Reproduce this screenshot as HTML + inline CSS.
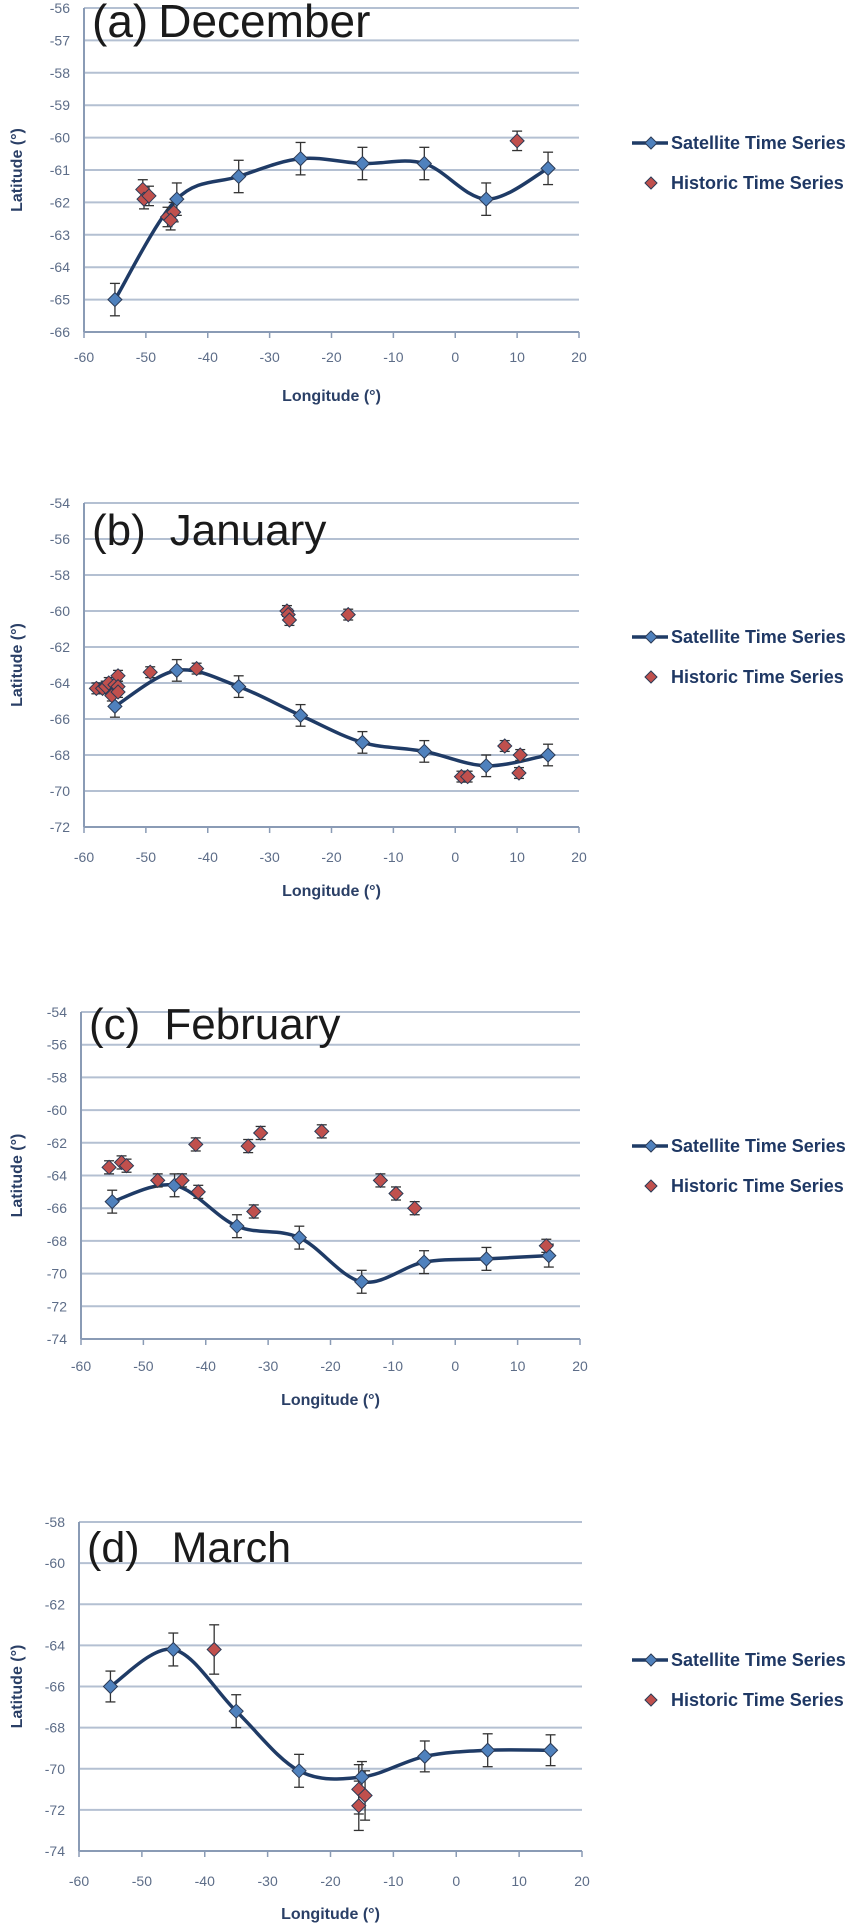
<!DOCTYPE html>
<html><head><meta charset="utf-8"><style>
html,body{margin:0;padding:0;background:#fff;}
svg{display:block;font-family:"Liberation Sans",sans-serif;}
</style></head><body>
<svg id="chart" width="858" height="1927" viewBox="0 0 858 1927"></svg>
<script>
const NS="http://www.w3.org/2000/svg";
const svg=document.getElementById('chart');
const xTicks=[-60,-50,-40,-30,-20,-10,0,10,20];
const satLon=[-55,-45,-35,-25,-15,-5,5,15];
const satDec=[-65,-61.9,-61.2,-60.65,-60.8,-60.8,-61.9,-60.95];
const satJan=[-65.3,-63.3,-64.2,-65.8,-67.3,-67.8,-68.6,-68.0];
const satFeb=[-65.6,-64.6,-67.1,-67.8,-70.5,-69.3,-69.1,-68.9];
const satMar=[-66,-64.2,-67.2,-70.1,-70.4,-69.4,-69.1,-69.1];
const errDec=[0.5,0.5,0.5,0.5,0.5,0.5,0.5,0.5];
const errJan=[0.6,0.6,0.6,0.6,0.6,0.6,0.6,0.6];
const errFeb=[0.7,0.7,0.7,0.7,0.7,0.7,0.7,0.7];
const errMar=[0.75,0.8,0.8,0.8,0.75,0.75,0.8,0.75];
const histDecLon=[-50.5,-50.3,-49.5,-46.5,-45.5,-46,10];
const histDecLat=[-61.6,-61.9,-61.8,-62.45,-62.3,-62.55,-60.1];
const histJanLon=[-58,-57,-56.5,-56,-55.5,-55,-54.5,-54.5,-54.5,-49.3,-41.8,-27.2,-27,-26.8,-17.3,1,2,8,10.5,10.3];
const histJanLat=[-64.3,-64.3,-64.2,-64.0,-64.7,-64.1,-63.6,-64.2,-64.5,-63.4,-63.2,-60.0,-60.2,-60.5,-60.2,-69.2,-69.2,-67.5,-68.0,-69.0];
const histFebLon=[-55.5,-53.5,-52.7,-47.7,-43.8,-41.6,-41.2,-33.2,-32.3,-31.2,-21.4,-12,-9.5,-6.5,14.6];
const histFebLat=[-63.5,-63.2,-63.4,-64.3,-64.3,-62.1,-65.0,-62.2,-66.2,-61.4,-61.3,-64.3,-65.1,-66.0,-68.3];
const histMarLon=[-38.5,-15.5,-14.5,-15.5];
const histMarLat=[-64.2,-71.0,-71.3,-71.8];
const histMarErr=[1.2,1.2,1.2,1.2];

const panels=[
 {id:'a',tag:'(a)',name:'December',gap:10,x0:84,x1:579,yT:8,yB:332,yMin:-66,yMax:-56,yStep:1,sat:satDec,err:errDec,hl:histDecLon,ht:histDecLat,he:histDecLon.map(()=>0.3),leg:143,lab:357,ttl:401,tb:37,tsz:46},
 {id:'b',tag:'(b)',name:'January',gap:24,x0:84,x1:579,yT:503,yB:827,yMin:-72,yMax:-54,yStep:2,sat:satJan,err:errJan,hl:histJanLon,ht:histJanLat,he:histJanLon.map(()=>0.3),leg:637,lab:857,ttl:896,tb:545,tsz:44},
 {id:'c',tag:'(c)',name:'February',gap:24,x0:81,x1:580,yT:1012,yB:1339,yMin:-74,yMax:-54,yStep:2,sat:satFeb,err:errFeb,hl:histFebLon,ht:histFebLat,he:histFebLon.map(()=>0.4),leg:1146,lab:1366,ttl:1405,tb:1039,tsz:44},
 {id:'d',tag:'(d)',name:'March',gap:32,x0:79,x1:582,yT:1522,yB:1851,yMin:-74,yMax:-58,yStep:2,sat:satMar,err:errMar,hl:histMarLon,ht:histMarLat,he:histMarErr,leg:1660,lab:1881,ttl:1919,tb:1562,tsz:43}
];
function el(t,a,p){const e=document.createElementNS(NS,t);for(const k in a)e.setAttribute(k,a[k]);(p||svg).appendChild(e);return e;}
function diamond(cx,cy,fill,g,r){r=r||7;return el('polygon',{points:`${cx},${cy-r} ${cx+r},${cy} ${cx},${cy+r} ${cx-r},${cy}`,fill:fill,stroke:'#2b3a55','stroke-width':1},g);}
function errbar(x,y1,y2,g){
 el('line',{x1:x,y1:y1,x2:x,y2:y2,stroke:'#333','stroke-width':1.3},g);
 el('line',{x1:x-5,y1:y1,x2:x+5,y2:y1,stroke:'#333','stroke-width':1.3},g);
 el('line',{x1:x-5,y1:y2,x2:x+5,y2:y2,stroke:'#333','stroke-width':1.3},g);
}
panels.forEach(P=>{
 const g=el('g',{});
 
 
 const X=v=>P.x0+(v+60)/80*(P.x1-P.x0);
 const Y=v=>P.yT+(P.yMax-v)/(P.yMax-P.yMin)*(P.yB-P.yT);
 for(let v=P.yMax;v>=P.yMin-1e-9;v-=P.yStep){
  const y=Y(v);
  if(v>P.yMin){const gl=el('line',{x1:P.x0,y1:y,x2:P.x1,y2:y,stroke:'#b4c0d2','stroke-width':2},g);}
  const t=el('text',{x:P.x0-14,y:y+5,'text-anchor':'end','font-size':14,fill:'#5d6d88'},g);t.textContent=v;
  
 }
 el('line',{x1:P.x0,y1:P.yT,x2:P.x0,y2:P.yB,stroke:'#8a9bb5','stroke-width':2},g);
 el('line',{x1:P.x0,y1:P.yB,x2:P.x1,y2:P.yB,stroke:'#8a9bb5','stroke-width':2},g);
 xTicks.forEach(v=>{
  el('line',{x1:X(v),y1:P.yB,x2:X(v),y2:P.yB+6,stroke:'#8a9bb5','stroke-width':1.5},g);
  const t=el('text',{x:X(v),y:P.lab+5,'text-anchor':'middle','font-size':14,fill:'#5d6d88'},g);t.textContent=v;
  
 });
 const xt=el('text',{x:(P.x0+P.x1)/2,y:P.ttl,'text-anchor':'middle','font-size':16,'font-weight':'bold',fill:'#2a3f66'},g);xt.textContent='Longitude (°)';
 
 const cy=(P.yT+P.yB)/2;
 const yt=el('text',{x:22,y:cy,'text-anchor':'middle','font-size':16,'font-weight':'bold',fill:'#2a3f66',transform:`rotate(-90 22 ${cy})`},g);yt.textContent='Latitude (°)';
 
 const ti=el('text',{x:P.x0+8,y:P.tb,'font-size':P.tsz,fill:'#1a1a1a'},g);
 const s1=el('tspan',{},ti);s1.textContent=P.tag;
 const s2=el('tspan',{dx:P.gap},ti);s2.textContent=P.name;
 
 const pts=satLon.map((l,i)=>[X(l),Y(P.sat[i])]);
 let d=`M${pts[0][0]},${pts[0][1]}`;
 for(let i=0;i<pts.length-1;i++){
  const p0=pts[Math.max(i-1,0)],p1=pts[i],p2=pts[i+1],p3=pts[Math.min(i+2,pts.length-1)];
  const t=1/6;
  d+=` C${p1[0]+(p2[0]-p0[0])*t},${p1[1]+(p2[1]-p0[1])*t} ${p2[0]-(p3[0]-p1[0])*t},${p2[1]-(p3[1]-p1[1])*t} ${p2[0]},${p2[1]}`;
 }
 const ln=el('path',{d:d,fill:'none',stroke:'#1f3b66','stroke-width':3.5},g);
 
 satLon.forEach((l,i)=>{errbar(X(l),Y(P.sat[i]+P.err[i]),Y(P.sat[i]-P.err[i]),g);});
 P.hl.forEach((l,i)=>{errbar(X(l),Y(P.ht[i]+P.he[i]),Y(P.ht[i]-P.he[i]),g);});
 satLon.forEach((l,i)=>{const m=diamond(X(l),Y(P.sat[i]),'#4f81bd',g);});
 P.hl.forEach((l,i)=>{const m=diamond(X(l),Y(P.ht[i]),'#c0504d',g);});
 const lg=el('g',{},g);
 
 el('line',{x1:632,y1:P.leg,x2:668,y2:P.leg,stroke:'#1f3b66','stroke-width':3.5},lg);
 diamond(651,P.leg,'#4f81bd',lg,6);
 const t1=el('text',{x:671,y:P.leg+6,'font-size':18,'font-weight':'bold',fill:'#1f3864'},lg);t1.textContent='Satellite Time Series';
 diamond(651,P.leg+40,'#c0504d',lg,6);
 const t2=el('text',{x:671,y:P.leg+46,'font-size':18,'font-weight':'bold',fill:'#1f3864'},lg);t2.textContent='Historic Time Series';
});
</script>
</body></html>
